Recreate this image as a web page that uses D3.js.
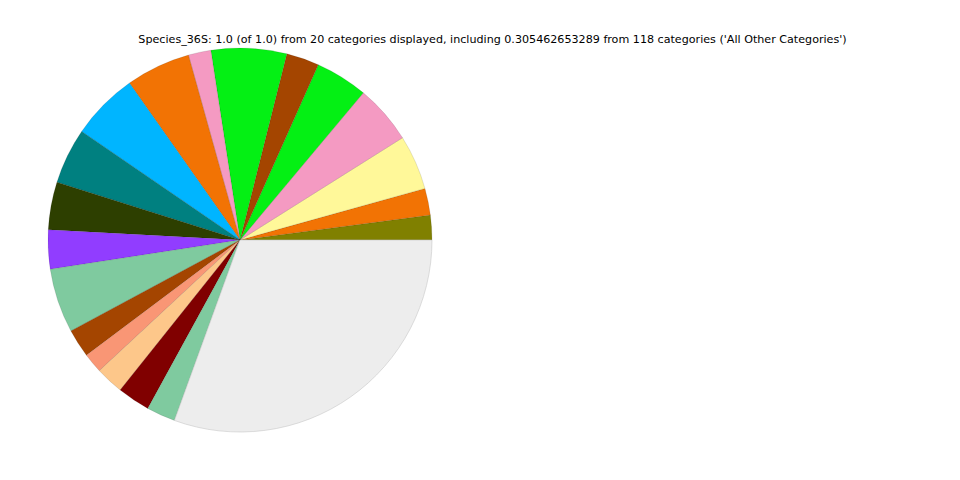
<!DOCTYPE html>
<html>
<head>
<meta charset="utf-8">
<script src="https://cdn.jsdelivr.net/npm/d3@7"></script>
<style>
  html, body { margin: 0; padding: 0; background: #ffffff; }
  svg { display: block; }
</style>
</head>
<body>
<svg id="chart" width="960" height="480"></svg>
<script>
const titleText = "Species_36S: 1.0 (of 1.0) from 20 categories displayed, including 0.305462653289 from 118 categories ('All Other Categories')";
const categories = [
  "Category 1", "Category 2", "Category 3", "Category 4", "Category 5",
  "Category 6", "Category 7", "Category 8", "Category 9", "Category 10",
  "Category 11", "Category 12", "Category 13", "Category 14", "Category 15",
  "Category 16", "Category 17", "Category 18", "Category 19", "All Other Categories"
];
const values = [
  0.0208, 0.0225, 0.0461, 0.0496, 0.0442,
  0.0276, 0.0635, 0.0190, 0.0544, 0.0567,
  0.0469, 0.0403, 0.0328, 0.0542, 0.0239,
  0.0167, 0.0236, 0.0275, 0.0243, 0.305463
];
const colors = [
  "#808000", "#f27304", "#fff899", "#f49ac2", "#04f014",
  "#a44500", "#04f014", "#f49ac2", "#f27304", "#00b5ff",
  "#008080", "#2d3f00", "#913dff", "#7fca9f", "#a44500",
  "#f99675", "#fdc78a", "#800000", "#7fca9f", "#ededed"
];

const svg = d3.select("#chart");
const cx = 240, cy = 240, radius = 192;

const data = categories.map((c, i) => ({ name: c, value: values[i], color: colors[i] }));

// matplotlib-style: start at 3 o'clock, go counter-clockwise
const pie = d3.pie()
  .sort(null)
  .value(d => d.value)
  .startAngle(Math.PI / 2)
  .endAngle(Math.PI / 2 - 2 * Math.PI);

const arc = d3.arc().innerRadius(0).outerRadius(radius);

const g = svg.append("g").attr("transform", `translate(${cx},${cy})`);
g.selectAll("path")
  .data(pie(data))
  .enter()
  .append("path")
  .attr("d", arc)
  .attr("fill", d => d.data.color)
  .attr("stroke", d => d.data.name === "All Other Categories" ? "#c8c8c8" : "rgba(0,0,0,0.18)")
  .attr("stroke-width", 0.6)
  .attr("stroke-linejoin", "round");

svg.append("text")
  .attr("x", 492.5)
  .attr("y", 43)
  .attr("text-anchor", "middle")
  .attr("font-family", "DejaVu Sans, sans-serif")
  .attr("font-size", 11.13)
  .attr("fill", "#000")
  .text(titleText);
</script>
</body>
</html>
